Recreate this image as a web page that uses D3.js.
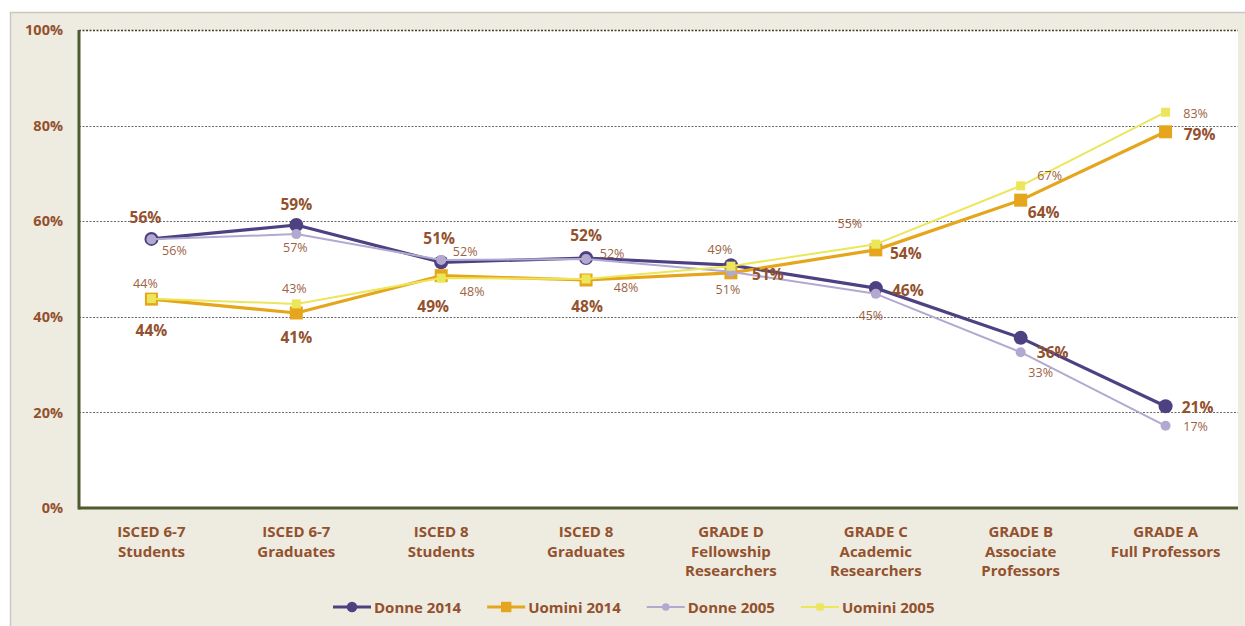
<!DOCTYPE html>
<html><head><meta charset="utf-8">
<script src="https://cdn.jsdelivr.net/npm/d3@7"></script>
<style>
html,body{margin:0;padding:0;background:#fff;}
svg{display:block;}
</style></head>
<body>
<svg id="chart" width="1245" height="626"></svg>
<script>
// ---- data ----
const categories = [
  ["ISCED 6-7","Students"],
  ["ISCED 6-7","Graduates"],
  ["ISCED 8","Students"],
  ["ISCED 8","Graduates"],
  ["GRADE D","Fellowship","Researchers"],
  ["GRADE C","Academic","Researchers"],
  ["GRADE B","Associate","Professors"],
  ["GRADE A","Full Professors"]
];
const seriesNames = ["Donne 2014","Uomini 2014","Donne 2005","Uomini 2005"];
const donne2014  = [56.3, 59.2, 51.4, 52.3, 50.8, 46.0, 35.6, 21.3];
const uomini2014 = [43.7, 40.8, 48.6, 47.7, 49.2, 54.0, 64.4, 78.7];
const donne2005  = [56.2, 57.3, 51.9, 52.1, 49.4, 44.8, 32.6, 17.2];
const uomini2005 = [43.8, 42.7, 48.1, 47.9, 50.6, 55.2, 67.4, 82.8];
const yTicks = [0, 20, 40, 60, 80, 100];

// label offsets (dx, dy) from each point; null = label not shown
const labelOffsets = [
  [[-6,-22],[0,-21],[-2,-24],[0,-23],[37,9],[32,2],[32,14],[32,1]],
  [[0,31],[0,24],[-8,30],[1,26],null,[30,3],[23,12],[34,2]],
  [[23,11],[-1,13],[24,-8],[26,-5],[-11,-22],[-5,22],[20,20],[30,1]],
  [[-6,-15],[-2,-15],[31,13],[40,8],[-3,23],[-26,-21],[29,-10],[30,1]]
];

// ---- style ----
const styles = [
  {color:"#4d4181", width:3.2, shape:"circle", size:7, bold:true},
  {color:"#e5a51c", width:3.2, shape:"square", size:13, bold:true},
  {color:"#b3a9d0", width:2, shape:"circle", size:5, bold:false},
  {color:"#ece65a", width:2, shape:"square", size:9, bold:false}
];
const textColor = "#93512d";
const font = "'Open Sans', Lato, sans-serif";

const svg = d3.select("#chart");
// outer frame
svg.append("rect").attr("x",10.5).attr("y",12.5).attr("width",1250).attr("height",630)
  .attr("fill","#eeebe1").attr("stroke","#c9c7c2").attr("stroke-width",1.5);

const plot = {left:79, right:1238, top:30, bottom:508};
svg.append("rect").attr("x",plot.left).attr("y",plot.top)
  .attr("width",plot.right-plot.left).attr("height",plot.bottom-plot.top).attr("fill","#fff");

const x = d3.scaleBand().domain(d3.range(categories.length)).range([plot.left, plot.right]);
const y = d3.scaleLinear().domain([0,100]).range([plot.bottom, plot.top]);
const cx = i => x(i) + x.bandwidth()/2;

// gridlines
svg.append("g").selectAll("line").data(yTicks.filter(t=>t>0)).join("line")
  .attr("x1",plot.left).attr("x2",plot.right)
  .attr("y1",d=>Math.round(y(d))+0.5).attr("y2",d=>Math.round(y(d))+0.5)
  .attr("stroke",d=>d===100?"#3a3f2a":"#6b6b66").attr("stroke-width",d=>d===100?1.3:1)
  .attr("stroke-dasharray","2,1.5");

// y axis
const yAxis = d3.axisLeft(y).tickValues(yTicks).tickFormat(d=>d+"%").tickSize(0).tickPadding(16);
const gy = svg.append("g").attr("transform",`translate(${plot.left},0)`).call(yAxis);
gy.select(".domain").remove();
gy.selectAll("text").attr("fill",textColor).attr("font-family",font)
  .attr("font-weight","bold").attr("font-size",14.5);

// axis lines
svg.append("line").attr("x1",plot.left).attr("x2",plot.left).attr("y1",plot.top).attr("y2",plot.bottom+1.5)
  .attr("stroke","#4e5a2f").attr("stroke-width",3);
svg.append("line").attr("x1",plot.left).attr("x2",plot.right).attr("y1",plot.bottom).attr("y2",plot.bottom)
  .attr("stroke","#4e5a2f").attr("stroke-width",3);

// x axis labels
const xAxis = d3.axisBottom(x).tickSize(0).tickFormat(()=> "");
const gx = svg.append("g").attr("transform",`translate(0,${plot.bottom})`).call(xAxis);
gx.select(".domain").remove();
gx.selectAll(".tick").each(function(d){
  const t = d3.select(this).select("text").attr("y",null).attr("dy",null)
    .attr("fill",textColor).attr("font-family",font).attr("font-weight","bold")
    .attr("font-size",15).attr("text-anchor","middle");
  categories[d].forEach((line,k)=>{
    t.append("tspan").attr("x",0).attr("y",29+k*19.5).text(line);
  });
});

// series
const allSeries = [donne2014, uomini2014, donne2005, uomini2005];
const line = d3.line().x((d,i)=>cx(i)).y(d=>y(d));
const order = [0,1,2,3];
order.forEach(s=>{
  const st = styles[s];
  const g = svg.append("g");
  g.append("path").datum(allSeries[s]).attr("d",line).attr("fill","none")
    .attr("stroke",st.color).attr("stroke-width",st.width).attr("stroke-linejoin","round");
  if(st.shape==="circle"){
    g.selectAll("circle").data(allSeries[s]).join("circle")
      .attr("cx",(d,i)=>cx(i)).attr("cy",d=>y(d)).attr("r",st.size).attr("fill",st.color);
  } else {
    g.selectAll("rect").data(allSeries[s]).join("rect")
      .attr("x",(d,i)=>cx(i)-st.size/2).attr("y",d=>y(d)-st.size/2)
      .attr("width",st.size).attr("height",st.size).attr("fill",st.color);
  }
});
// data labels
order.forEach(s=>{
  const st = styles[s];
  svg.append("g").selectAll("text").data(allSeries[s].map((v,i)=>({v,i,o:labelOffsets[s][i]})).filter(d=>d.o))
    .join("text")
    .attr("x",d=>cx(d.i)+d.o[0]).attr("y",d=>y(d.v)+d.o[1])
    .attr("text-anchor","middle").attr("dominant-baseline","central")
    .attr("fill",textColor).attr("font-family",font)
    .attr("font-weight",st.bold?"bold":"normal").attr("font-size",st.bold?15.5:12.5)
    .attr("opacity",st.bold?1:0.9)
    .text(d=>Math.round(d.v)+"%");
});

// legend
const legY = 607;
let lx = 333;
const lg = svg.append("g");
seriesNames.forEach((name,s)=>{
  const st = styles[s];
  const g = lg.append("g").attr("transform",`translate(${lx},${legY})`);
  g.append("line").attr("x1",0).attr("x2",38).attr("y1",0).attr("y2",0)
    .attr("stroke",st.color).attr("stroke-width",st.width);
  if(st.shape==="circle") g.append("circle").attr("cx",19).attr("cy",0).attr("r",st.size*0.75).attr("fill",st.color);
  else g.append("rect").attr("x",19-st.size*0.4).attr("y",-st.size*0.4).attr("width",st.size*0.8).attr("height",st.size*0.8).attr("fill",st.color);
  const t = g.append("text").attr("x",41).attr("y",0).attr("dominant-baseline","central")
    .attr("fill",textColor).attr("font-family",font).attr("font-weight","bold").attr("font-size",15)
    .text(name);
  lx += 41 + t.node().getComputedTextLength() + 26;
});
</script>
</body></html>
